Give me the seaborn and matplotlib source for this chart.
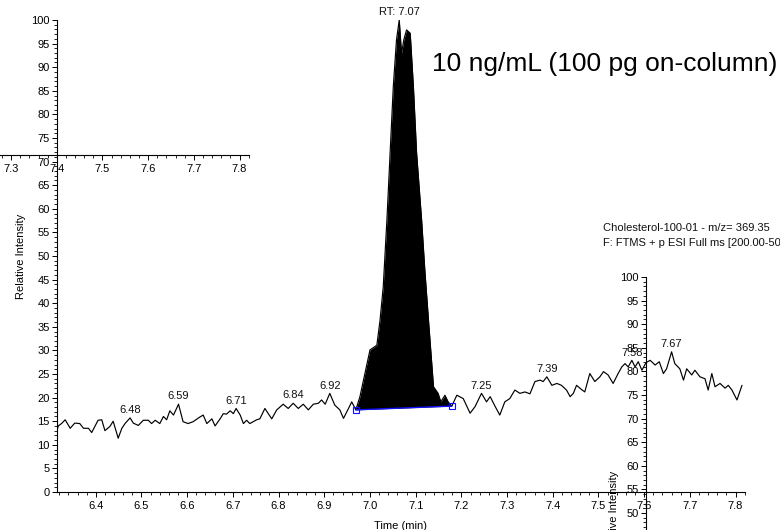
import numpy as np
import pandas as pd
import matplotlib
matplotlib.use("Agg")
import matplotlib.pyplot as plt
import seaborn as sns
from matplotlib.ticker import MultipleLocator

# ---------------- data ----------------
time_min = [
    6.313, 6.318, 6.325, 6.333, 6.344, 6.354, 6.365, 6.373, 6.384, 6.391,
    6.398, 6.405, 6.413, 6.420, 6.431, 6.438, 6.449, 6.457, 6.464, 6.475,
    6.482, 6.493, 6.504, 6.515, 6.522, 6.530, 6.540, 6.548, 6.555, 6.562,
    6.570, 6.581, 6.591, 6.602, 6.613, 6.628, 6.635, 6.643, 6.654, 6.661,
    6.672, 6.679, 6.686, 6.694, 6.701, 6.707, 6.716, 6.723, 6.730, 6.737,
    6.752, 6.759, 6.770, 6.785, 6.796, 6.810, 6.821, 6.832, 6.843, 6.854,
    6.865, 6.876, 6.887, 6.894, 6.902, 6.912, 6.923, 6.934, 6.942, 6.953,
    6.960, 6.969,
    6.978, 6.989, 7.000, 7.015, 7.022, 7.029, 7.037, 7.044, 7.051, 7.058,
    7.064, 7.069, 7.074, 7.080, 7.088, 7.095, 7.102, 7.113, 7.120, 7.128,
    7.139, 7.149, 7.155, 7.164, 7.171, 7.179,
    7.190, 7.204, 7.219, 7.230, 7.244, 7.255, 7.263, 7.274, 7.284, 7.295,
    7.306, 7.317, 7.328, 7.339, 7.350, 7.361, 7.372, 7.379, 7.387, 7.398,
    7.409, 7.419, 7.430, 7.438, 7.445, 7.452, 7.463, 7.470, 7.481, 7.492,
    7.503, 7.511, 7.521, 7.532, 7.543, 7.551, 7.558, 7.565, 7.573, 7.580,
    7.587, 7.595, 7.604, 7.613, 7.624, 7.633, 7.642, 7.649, 7.660, 7.667,
    7.678, 7.686, 7.693, 7.704, 7.711, 7.722, 7.733, 7.740, 7.748, 7.755,
    7.766, 7.777, 7.784, 7.792, 7.803, 7.814,
]
rel_intensity = [
    12.4, 14.0, 14.5, 15.3, 13.5, 14.6, 14.5, 13.5, 13.5, 12.6,
    13.9, 15.2, 15.3, 13.0, 13.9, 15.0, 11.4, 13.5, 14.5, 15.7,
    14.6, 14.1, 15.2, 15.2, 14.5, 15.2, 14.5, 16.0, 15.3, 17.2,
    16.3, 18.6, 14.9, 14.5, 14.9, 15.9, 16.3, 14.5, 15.5, 14.0,
    15.5, 16.6, 16.5, 17.2, 16.6, 17.7, 16.3, 14.5, 15.2, 14.5,
    15.3, 15.5, 17.7, 15.5, 17.4, 18.6, 17.7, 18.8, 17.7, 18.6,
    17.4, 18.6, 18.8, 19.5, 18.6, 20.9, 18.4, 17.4, 15.6, 17.7,
    19.1, 17.4,
    20.2, 25.2, 30.1, 31.1, 36.4, 43.5, 57.6, 71.8, 85.9, 95.8,
    100.0, 92.9, 95.8, 97.9, 97.2, 85.9, 71.8, 57.6, 47.0, 36.4,
    22.3, 20.9, 19.1, 20.5, 19.1, 18.2,
    20.5, 19.8, 16.7, 18.1, 20.9, 19.1, 20.2, 18.1, 16.3, 19.1,
    19.8, 21.6, 20.9, 21.2, 20.8, 23.4, 23.7, 23.4, 24.4, 22.6,
    23.0, 22.6, 21.6, 20.2, 20.9, 22.6, 21.7, 21.2, 25.1, 23.4,
    24.4, 25.5, 24.8, 23.0, 25.1, 26.5, 27.2, 26.5, 27.9, 26.5,
    27.6, 25.8, 27.4, 27.9, 26.9, 27.6, 25.1, 26.1, 29.7, 27.2,
    26.1, 23.7, 26.1, 24.8, 25.8, 24.4, 24.0, 21.6, 25.1, 22.3,
    23.0, 22.0, 22.6, 21.6, 19.5, 22.6,
]

# integration limits of the main peak (blue baseline)
peak_start = 6.969
peak_end = 7.179
baseline_y = [17.4, 18.2]

# labelled apexes
apex_text = ["6.48", "6.59", "6.71", "6.84", "6.92", "7.25", "7.39", "7.58", "7.67"]
apex_time = [6.475, 6.581, 6.707, 6.832, 6.912, 7.244, 7.387, 7.573, 7.660]
apex_int = [15.7, 18.6, 17.7, 18.8, 20.9, 20.9, 24.4, 27.9, 29.7]
rt_text = "RT: 7.07"
rt_time = 7.064
rt_int = 100.0

title_text = "10 ng/mL (100 pg on-column)"
header_lines = ["Cholesterol-100-01 - m/z= 369.35",
                "F: FTMS + p ESI Full ms [200.00-500.00]"]

y_ticks = [0, 5, 10, 15, 20, 25, 30, 35, 40, 45, 50, 55, 60, 65, 70, 75, 80, 85, 90, 95, 100]
x_ticks = [6.4, 6.5, 6.6, 6.7, 6.8, 6.9, 7.0, 7.1, 7.2, 7.3, 7.4, 7.5, 7.6, 7.7, 7.8]
# tick labels of the stray axis copies that fall inside the picture
x_ticks_copy = [7.3, 7.4, 7.5, 7.6, 7.7, 7.8]
y_ticks_copy = [50, 55, 60, 65, 70, 75, 80, 85, 90, 95, 100]

# ---------------- figure ----------------
sns.set_theme(style="white")
plt.rcParams['font.family'] = ['Liberation Sans', 'DejaVu Sans']
plt.rcParams['axes.linewidth'] = 0.8

W, H = 780, 530
fig = plt.figure(figsize=(W / 100, H / 100), dpi=100)
fig.patch.set_facecolor("white")


def rect(l, t, r, b):
    return [l / W, (H - b) / H, (r - l) / W, (b - t) / H]


X0, X1 = 6.3151, 7.8206


def style_axis(a, xt, yt, show_x=True, show_y=True):
    a.set_facecolor("none")
    a.set_xlim(X0, X1)
    a.set_ylim(0, 100)
    for s in ["top", "right"]:
        a.spines[s].set_visible(False)
    a.spines["bottom"].set_visible(show_x)
    a.spines["left"].set_visible(show_y)
    for s in ["bottom", "left"]:
        a.spines[s].set_color("black")
        a.spines[s].set_linewidth(0.8)
    a.set_xticks(xt)
    a.set_xticklabels([f"{v:.1f}" for v in xt])
    a.set_yticks(yt)
    a.set_yticklabels([str(v) for v in yt])
    a.xaxis.set_minor_locator(MultipleLocator(0.02))
    a.yaxis.set_minor_locator(MultipleLocator(1))
    a.tick_params(axis="both", which="major", direction="out", length=3.8,
                  width=0.7, color="black", labelsize=8, labelcolor="black")
    a.tick_params(axis="x", which="major", pad=2.5)
    a.tick_params(axis="y", which="major", pad=1.5)
    a.tick_params(axis="both", which="minor", direction="out", length=2.2,
                  width=0.6, color="black")
    a.tick_params(axis="x", which="both", bottom=show_x, labelbottom=show_x)
    a.tick_params(axis="y", which="both", left=show_y, labelleft=show_y)
    a.grid(False)


ax = fig.add_axes(rect(57, 20, 745, 492))
style_axis(ax, x_ticks, y_ticks)

df = pd.DataFrame({"Time (min)": time_min, "Relative Intensity": rel_intensity})
sns.lineplot(data=df, x="Time (min)", y="Relative Intensity", ax=ax,
             color="black", linewidth=0.85, sort=False, estimator=None)

# filled main peak
t_arr = np.array(time_min)
i_arr = np.array(rel_intensity)
m = (t_arr >= peak_start) & (t_arr <= peak_end)
base = np.interp(t_arr[m], [peak_start, peak_end], baseline_y)
ax.fill_between(t_arr[m], base, i_arr[m], color="black", linewidth=0)
ax.plot([peak_start, peak_end], baseline_y, color="#1010ff", linewidth=1.0,
        marker="s", markersize=4, markerfacecolor="none",
        markeredgecolor="#1010ff", markeredgewidth=0.8)

for txt, tx, ty in zip(apex_text, apex_time, apex_int):
    ax.annotate(txt, (tx, ty), xytext=(0, 2), textcoords="offset points",
                ha="center", va="bottom", fontsize=8, color="#111111")
ax.annotate(rt_text, (rt_time, rt_int), xytext=(0, 2), textcoords="offset points",
            ha="center", va="bottom", fontsize=8, color="#111111",
            annotation_clip=False)

ax.set_xlabel("Time (min)", fontsize=8, color="black")
ax.set_ylabel("Relative Intensity", fontsize=8, color="black")
ax.xaxis.set_label_coords(0.5, -(521 - 492) / 472)
ax.yaxis.set_label_coords(-31.5 / 688, 0.5)

# stray copies of the axes (as in the original screenshot)
ax_tl = fig.add_axes(rect(57 - 496, 55, 745 - 496, 155))
style_axis(ax_tl, x_ticks_copy, y_ticks, show_x=True, show_y=False)
ax_tl.set_xlabel("")
ax_tl.set_ylabel("")

ax_r = fig.add_axes(rect(57 + 589, 20 + 257, 745 + 589, 492 + 257))
style_axis(ax_r, x_ticks, y_ticks_copy, show_x=False, show_y=True)
ax_r.set_xlabel("")
ax_r.set_ylabel("Relative Intensity", fontsize=8, color="black")
ax_r.yaxis.set_label_coords(-27 / 688, 0.5)

fig.text(432 / W, 1 - 64 / H, title_text, fontsize=19, color="black",
         ha="left", va="center")
fig.text(603 / W, 1 - 228 / H, header_lines[0], fontsize=8, color="#111111",
         ha="left", va="center")
fig.text(603 / W, 1 - 243 / H, header_lines[1], fontsize=8, color="#111111",
         ha="left", va="center")

fig.savefig("out.png", dpi=100)
